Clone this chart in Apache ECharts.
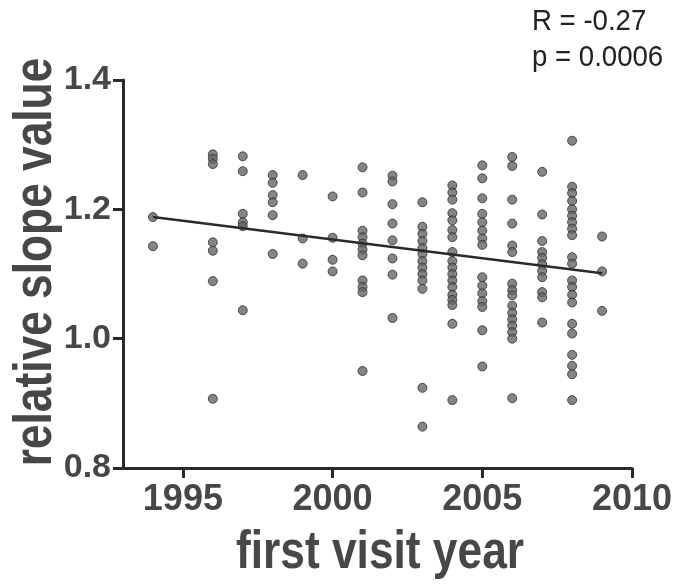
<!DOCTYPE html>
<html><head><meta charset="utf-8">
<script src="https://cdn.jsdelivr.net/npm/echarts@6/dist/echarts.min.js"></script>
<style>html,body{margin:0;padding:0;background:#fff}#c{width:673px;height:587px}</style>
</head><body><div id="c"></div>
<script>
const years = [1994,1996,1997,1998,1999,2000,2001,2002,2003,2004,2005,2006,2007,2008,2009];
const slopeValues = [
  [1.188,1.143],
  [1.285,1.278,1.270,1.149,1.136,1.089,0.907],
  [1.282,1.259,1.193,1.180,1.174,1.044],
  [1.253,1.241,1.222,1.211,1.191,1.131],
  [1.253,1.155,1.116],
  [1.220,1.156,1.122,1.104],
  [1.265,1.226,1.167,1.157,1.147,1.138,1.129,1.090,1.080,1.072,0.950],
  [1.252,1.243,1.208,1.178,1.152,1.124,1.099,1.032],
  [1.211,1.173,1.162,1.151,1.140,1.131,1.120,1.110,1.100,1.090,1.077,0.924,0.864],
  [1.237,1.226,1.215,1.194,1.183,1.168,1.157,1.134,1.120,1.110,1.100,1.090,1.080,1.068,1.060,1.052,1.023,0.905],
  [1.268,1.248,1.217,1.193,1.180,1.167,1.155,1.145,1.095,1.082,1.070,1.058,1.049,1.013,0.957],
  [1.281,1.267,1.215,1.178,1.144,1.134,1.085,1.075,1.067,1.051,1.040,1.030,1.020,1.010,1.000,0.908],
  [1.258,1.192,1.151,1.134,1.125,1.115,1.105,1.095,1.072,1.064,1.025],
  [1.306,1.235,1.225,1.213,1.200,1.190,1.180,1.170,1.160,1.126,1.116,1.090,1.080,1.068,1.056,1.023,1.008,0.975,0.958,0.945,0.905],
  [1.158,1.104,1.043]
];
const trendX = [1994, 2009];
const trendY = [1.188, 1.101];
const xTicks = [1995, 2000, 2005, 2010];
const xTitle = 'first visit year';
const yTitle = 'relative slope value';
const statsText = ['R = -0.27', 'p = 0.0006'];

const points = [];
years.forEach((yr, i) => slopeValues[i].forEach(v => points.push([yr, v])));
const trend = trendX.map((x, i) => [x, trendY[i]]);

const chart = echarts.init(document.getElementById('c'), null, {renderer: 'canvas'});
const FONT = '"Liberation Sans",Arial,sans-serif';
const lab = {fontFamily: FONT, fontWeight: 'bold', color: '#474747'};
const titleStyle = {fontFamily: FONT, fontWeight: 'bold', fill: '#474747', fontSize: 54, align: 'center', verticalAlign: 'middle'};
chart.setOption({
  animation: false,
  backgroundColor: '#fff',
  grid: {left: 123, top: 80, right: 41, bottom: 119, outerBoundsMode: 'none', containLabel: false},
  xAxis: {
    type: 'value', min: 1993, max: 2010, interval: 1,
    axisLine: {lineStyle: {color: '#2a2a2a', width: 3}},
    axisTick: {show: true, length: 10, lineStyle: {color: '#2a2a2a', width: 3},
      customValues: xTicks},
    axisLabel: Object.assign({margin: 14, fontSize: 36, customValues: xTicks, formatter: v => String(v)}, lab),
    splitLine: {show: false}
  },
  yAxis: {
    type: 'value', min: 0.8, max: 1.4, interval: 0.2,
    axisLine: {show: true, lineStyle: {color: '#2a2a2a', width: 3}},
    axisTick: {show: true, length: 10, lineStyle: {color: '#2a2a2a', width: 3}},
    axisLabel: Object.assign({margin: 12, fontSize: 34, formatter: v => v.toFixed(1)}, lab),
    splitLine: {show: false}
  },
  series: [
    {type: 'scatter', data: points, symbolSize: 9,
     itemStyle: {color: '#666', borderColor: '#2e2e2e', borderWidth: 1}, z: 3},
    {type: 'line', data: trend, symbol: 'none',
     lineStyle: {color: '#2a2a2a', width: 2.5}, z: 4}
  ],
  graphic: [
    {type: 'text', x: 380, y: 553, scaleX: 0.82, style: Object.assign({text: xTitle}, titleStyle)},
    {type: 'text', x: 36, y: 262, rotation: Math.PI / 2, scaleX: 0.82, style: Object.assign({text: yTitle}, titleStyle)}
  ].concat(statsText.map((t, i) => ({
    type: 'text', x: 532, y: 7 + i * 36, scaleX: 0.92,
    style: {text: t, fontSize: 30, fill: '#222', fontFamily: FONT}
  })))
});
</script></body></html>
